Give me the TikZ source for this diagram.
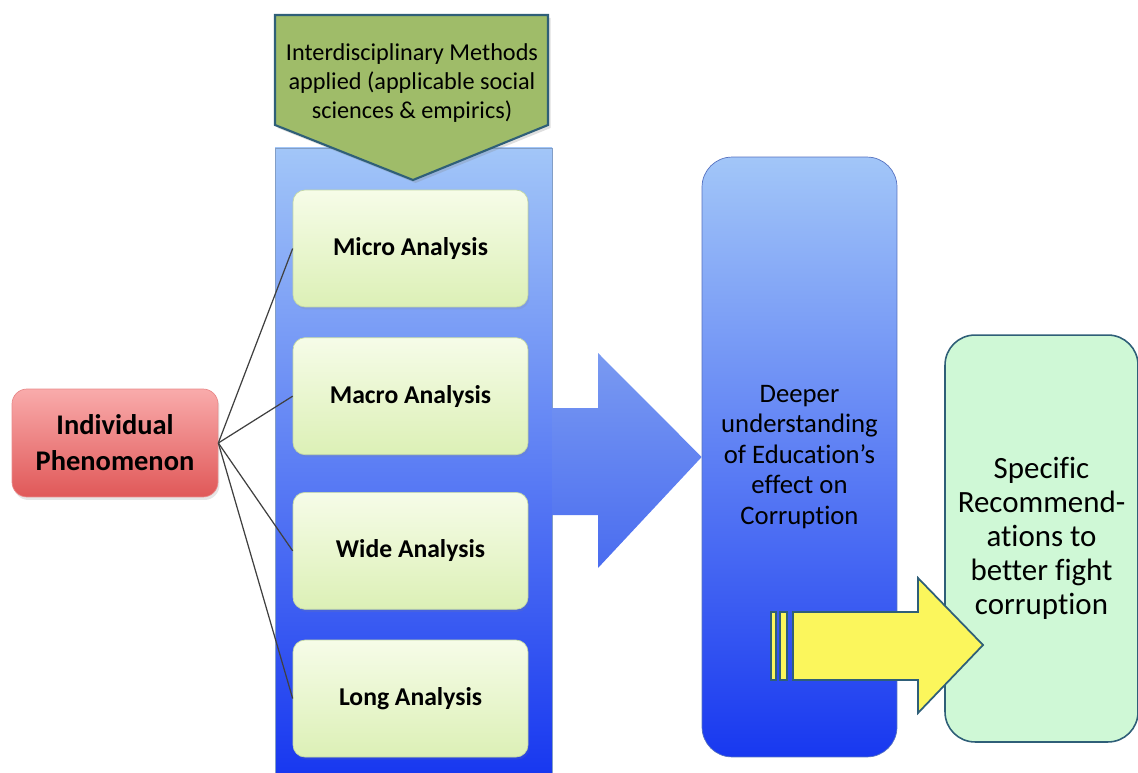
\documentclass[tikz,border=0pt]{standalone}
\usepackage{fontspec}
\setmainfont{Carlito}[Ligatures=NoCommon]
\usetikzlibrary{positioning,shadows,calc}
\definecolor{colltop}{HTML}{A2C6F8}
\definecolor{collmid}{HTML}{6B8FF0}
\definecolor{collbot}{HTML}{1838F0}
\definecolor{paletop}{HTML}{F6FCE8}
\definecolor{palebot}{HTML}{DCF0B6}
\definecolor{paleedge}{HTML}{C4D8A4}
\definecolor{redtop}{HTML}{F9ABAB}
\definecolor{redbot}{HTML}{E05858}
\definecolor{methodfill}{HTML}{9FBC69}
\definecolor{tealedge}{HTML}{2F5F78}
\definecolor{mint}{HTML}{CFF8D6}
\definecolor{lemon}{HTML}{FBF65C}

\begin{document}
\begin{tikzpicture}[x=0.02cm,y=-0.02cm, node distance=0.6cm]
    \tikzstyle{analysis} = [draw=paleedge, rounded corners=0.24cm,
        top color=paletop, bottom color=palebot,
        minimum width=4.7cm, minimum height=2.34cm,
        font=\fontsize{14.6}{17}\selectfont\bfseries,
        drop shadow={opacity=0.15, shadow xshift=0.03cm, shadow yshift=-0.05cm}]
    \tikzstyle{phenom} = [draw=redbot!70, rounded corners=0.3cm,
        top color=redtop, bottom color=redbot,
        minimum width=4.12cm, minimum height=2.16cm, align=center,
        font=\fontsize{16.2}{20.4}\selectfont\bfseries,
        drop shadow={opacity=0.2, shadow xshift=0.03cm, shadow yshift=-0.06cm}]
    \tikzstyle{link} = [draw=black!75, line width=0.7pt]
    \useasboundingbox (0,0) rectangle (1138,773);

    % blue column behind the analyses
    \shade[top color=colltop, middle color=collmid, bottom color=collbot]
        (275,148) rectangle (552,773);
    \draw[colltop!80!black, line width=0.3pt] (275,773) -- (275,148) -- (552,148) -- (552,773);

    % methods banner
    \draw[tealedge, line width=1.2pt, fill=methodfill,
        drop shadow={opacity=0.25, shadow xshift=0.05cm, shadow yshift=-0.06cm}]
        (275,15) -- (548,15) -- (548,125) -- (413,180) -- (275,125) -- cycle;
    \node[align=center, font=\fontsize{13.8}{16.4}\selectfont] (methods) at (412,83)
        {Interdisciplinary Methods\\applied (applicable social\\sciences \& empirics)};

    \node[analysis] (micro) at (410.5,248.5) {Micro Analysis};
    \node[analysis, below=0.6cm of micro] (macro) {Macro Analysis};
    \node[analysis, below=0.74cm of macro] (wide) {Wide Analysis};
    \node[analysis, below=0.6cm of wide] (long) {Long Analysis};

    \node[phenom] (indiv) at (115,443) {Individual\\Phenomenon};

    \foreach \b in {micro,macro,wide,long}
        \draw[link] (indiv.east) -- (\b.west);

    % result box
    \node[draw=collmid!80!black, line width=0.4pt, rounded corners=0.6cm,
        top color=colltop, middle color=collmid, bottom color=collbot,
        minimum width=3.9cm, minimum height=12cm, align=center,
        font=\fontsize{15.2}{17.4}\selectfont] (deeper) at (799.5,457)
        {Deeper\\understanding\\of Education’s\\effect on\\Corruption};

    % big blue arrow
    \shade[top color=collmid!90!white, bottom color=collmid!60!collbot]
        (552,408) -- (598,408) -- (598,353) -- (deeper.west) -- (598,568)
        -- (598,515) -- (552,515) -- cycle;

    \node[draw=tealedge, line width=0.9pt, rounded corners=0.6cm, fill=mint,
        minimum width=3.86cm, minimum height=8.14cm, align=center,
        font=\fontsize{17.6}{19.3}\selectfont] (specific) at (1041.5,538.5)
        {Specific\\Recommend-\\ations to\\better fight\\corruption};

    % yellow arrow
    \coordinate (tip) at (983,645);
    \begin{scope}[tealedge, line width=1pt, fill=lemon,
        drop shadow={opacity=0.25, shadow xshift=0.05cm, shadow yshift=-0.06cm}]
        \filldraw (771,612) rectangle (776,680);
        \filldraw (780,612) rectangle (787,680);
        \filldraw (793,612) -- (918,612) -- (918,578) -- (tip) -- (918,713)
            -- (918,680) -- (793,680) -- cycle;
    \end{scope}
\end{tikzpicture}
\end{document}
